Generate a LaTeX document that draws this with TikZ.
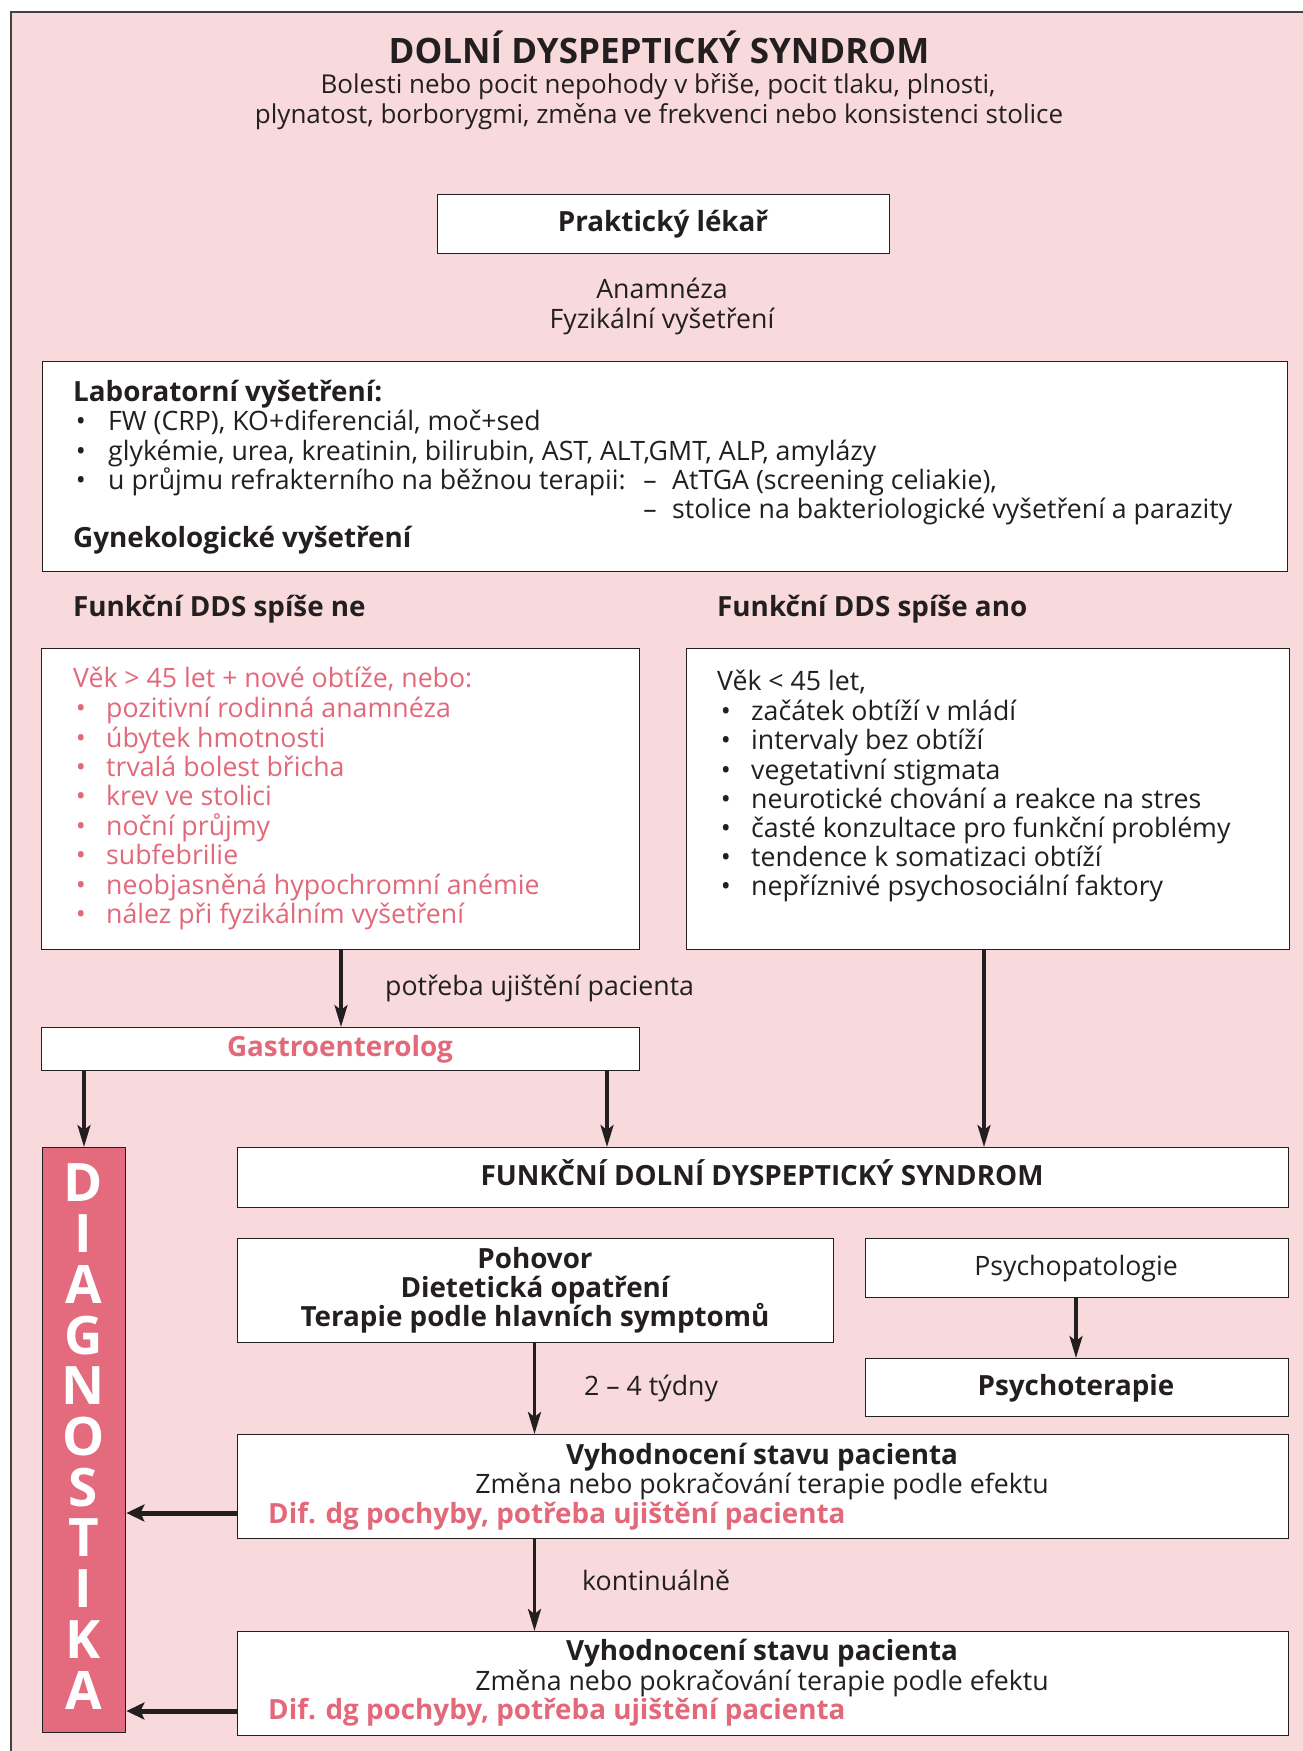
\documentclass[tikz,border=0pt]{standalone}
\usepackage{fontspec}
\setmainfont{Open Sans}
\usetikzlibrary{arrows.meta,calc}
\definecolor{bgpink}{RGB}{248,218,220}
\definecolor{redtxt}{RGB}{226,104,122}
\definecolor{diagred}{RGB}{227,107,125}
\definecolor{ink}{RGB}{35,31,32}
\tikzset{
  box/.style={draw=ink, line width=1.4pt, fill=white, inner sep=0pt, anchor=north west},
  txt/.style={text=ink, inner sep=0pt, font=\fontsize{26.7}{31}\selectfont},
  btxt/.style={text=ink, inner sep=0pt, font=\fontsize{27.8}{32}\selectfont\bfseries},
  rtxt/.style={text=redtxt, inner sep=0pt, font=\fontsize{26.7}{31}\selectfont},
  rbtxt/.style={text=redtxt, inner sep=0pt, font=\fontsize{27.8}{32}\selectfont\bfseries},
  arr/.style={draw=ink, line width=3.5pt, -{Stealth[length=22pt,width=13pt,inset=5pt]}},
  harr/.style={draw=ink, line width=5pt, -{Stealth[length=18pt,width=17pt,inset=4pt]}},
}
\begin{document}
\begin{tikzpicture}[x=1pt,y=-1pt]
\useasboundingbox (0,0) rectangle (1303,1751);
\fill[bgpink] (11,12) rectangle (1303,1751);
\draw[ink!85, line width=1.2pt] (11,1751) -- (11,12) -- (1303,12);

% title
\node[text=ink, inner sep=0pt, font=\fontsize{35}{40}\selectfont\bfseries, anchor=mid] (title) at (659,61) {DOLNÍ DYSPEPTICKÝ SYNDROM};
\node[text=ink, inner sep=0pt, font=\fontsize{26}{31}\selectfont, anchor=mid] (sub1) at (658,91) {Bolesti nebo pocit nepohody v břiše, pocit tlaku, plnosti,};
\node[text=ink, inner sep=0pt, font=\fontsize{26}{31}\selectfont, anchor=mid] (sub2) at (659,121) {plynatost, borborygmi, změna ve frekvenci nebo konsistenci stolice};

% boxes
\node[box, minimum width=452pt, minimum height=59pt] (prak) at (437,194) {};
\node[box, minimum width=1245pt, minimum height=210pt] (lab) at (42,361) {};
\node[box, minimum width=598pt, minimum height=301pt] (left) at (41,648) {};
\node[box, minimum width=603pt, minimum height=301pt] (right) at (686,648) {};
\node[box, minimum width=598pt, minimum height=43pt] (gastro) at (41,1027) {};
\node[box, fill=diagred, minimum width=83pt, minimum height=585pt] (diag) at (42,1147) {};
\node[box, minimum width=1051pt, minimum height=60pt] (funk) at (237,1147) {};
\node[box, minimum width=596pt, minimum height=104pt] (poh) at (237,1238) {};
\node[box, minimum width=423pt, minimum height=59pt] (psp) at (865,1238) {};
\node[box, minimum width=423pt, minimum height=58pt] (pst) at (865,1358) {};
\node[box, minimum width=1051pt, minimum height=104pt] (vyh1) at (237,1434) {};
\node[box, minimum width=1051pt, minimum height=104pt] (vyh2) at (237,1631) {};

% texts
\node[btxt, anchor=mid] (prakt) at (663,229) {Praktický lékař};
\node[txt, anchor=mid] (anam) at (662,296) {Anamnéza};
\node[txt, anchor=mid] (fyz) at (662,326) {Fyzikální vyšetření};

\node[btxt, anchor=mid west] (labh) at (73,399) {Laboratorní vyšetření:};
\foreach \t [count=\i from 0] in {{FW (CRP), KO+diferenciál, moč+sed},{glykémie, urea, kreatinin, bilirubin, AST, ALT,GMT, ALP, amylázy},{u průjmu refrakterního na běžnou terapii:}}{
  \node[txt, anchor=mid] (labb\i) at (81,{428+29.5*\i}) {•};
  \node[txt, anchor=mid west] (labt\i) at (108,{428+29.5*\i}) {\t};
}
\node[txt, anchor=mid] (dash1) at (650,487) {–};
\node[txt, anchor=mid west] (dasht1) at (672,487) {AtTGA (screening celiakie),};
\node[txt, anchor=mid] (dash2) at (650,516) {–};
\node[txt, anchor=mid west] (dasht2) at (672,516) {stolice na bakteriologické vyšetření a parazity};
\node[btxt, anchor=mid west] (gyn) at (73,545) {Gynekologické vyšetření};

\node[btxt, anchor=mid west] (ne) at (73,614) {Funkční DDS spíše ne};
\node[btxt, anchor=mid west] (ano) at (717,614) {Funkční DDS spíše ano};

\node[rtxt, anchor=mid west] (lh) at (73,685) {Věk > 45 let + nové obtíže, nebo:};
\foreach \t [count=\i from 0] in {pozitivní rodinná anamnéza,úbytek hmotnosti,trvalá bolest břicha,krev ve stolici,noční průjmy,subfebrilie,neobjasněná hypochromní anémie,nález při fyzikálním vyšetření}{
  \node[rtxt, anchor=mid] (lb\i) at (81,{715+29.43*\i}) {•};
  \node[rtxt, anchor=mid west] (lt\i) at (106,{715+29.43*\i}) {\t};
}
\node[txt, anchor=mid west] (rh) at (717,688) {Věk < 45 let,};
\foreach \t [count=\i from 0] in {začátek obtíží v mládí,intervaly bez obtíží,vegetativní stigmata,neurotické chování a reakce na stres,časté konzultace pro funkční problémy,tendence k somatizaci obtíží,nepříznivé psychosociální faktory}{
  \node[txt, anchor=mid] (rb\i) at (726,{718+29.17*\i}) {•};
  \node[txt, anchor=mid west] (rt\i) at (751,{718+29.17*\i}) {\t};
}

\node[rbtxt, anchor=mid] (gastrot) at (340,1054) {Gastroenterolog};
\node[txt, anchor=mid west] (potr) at (385,993) {potřeba ujištění pacienta};

\foreach \l [count=\i from 0] in {D,I,A,G,N,O,S,T,I,K,A}{
  \node[text=white, inner sep=0pt, font=\fontsize{53}{53}\selectfont\bfseries] (dg\i) at (83.5,{1183+50.7*\i}) {\l};
}

\node[btxt, anchor=mid] (funkt) at (762,1183) {FUNKČNÍ DOLNÍ DYSPEPTICKÝ SYNDROM};
\node[btxt, anchor=mid] (poh1) at (535,1266) {Pohovor};
\node[btxt, anchor=mid] (poh2) at (535,1295) {Dietetická opatření};
\node[btxt, anchor=mid] (poh3) at (535,1324) {Terapie podle hlavních symptomů};
\node[txt, anchor=mid] (pspt) at (1076,1273) {Psychopatologie};
\node[btxt, anchor=mid] (pstt) at (1076,1393) {Psychoterapie};
\node[txt, anchor=mid west] (tydny) at (584,1393) {2 – 4 týdny};

\node[btxt, anchor=mid] (v1a) at (762,1462) {Vyhodnocení stavu pacienta};
\node[txt, anchor=mid] (v1b) at (762,1491) {Změna nebo pokračování terapie podle efektu};
\node[rbtxt, anchor=mid west] (v1c) at (268,1521) {Dif. dg pochyby, potřeba ujištění pacienta};
\node[txt, anchor=mid west] (kont) at (582,1588) {kontinuálně};
\node[btxt, anchor=mid] (v2a) at (762,1658) {Vyhodnocení stavu pacienta};
\node[txt, anchor=mid] (v2b) at (762,1688) {Změna nebo pokračování terapie podle efektu};
\node[rbtxt, anchor=mid west] (v2c) at (268,1717) {Dif. dg pochyby, potřeba ujištění pacienta};

% arrow x positions
\coordinate (xa) at (341,0);
\coordinate (xb) at (84,0);
\coordinate (xc) at (607,0);
\coordinate (xd) at (984,0);
\coordinate (xe) at (1076,0);
\coordinate (xf) at (534.5,0);
\coordinate (yg) at (0,1513);
\coordinate (yi) at (0,1711);

\draw[arr] (left.south -| xa) -- (gastro.north -| xa);
\draw[arr] (gastro.south -| xb) -- (diag.north -| xb);
\draw[arr] (gastro.south -| xc) -- (funk.north -| xc);
\draw[arr] (right.south -| xd) -- (funk.north -| xd);
\draw[arr] (psp.south -| xe) -- (pst.north -| xe);
\draw[arr] (poh.south -| xf) -- (vyh1.north -| xf);
\draw[arr] (vyh1.south -| xf) -- (vyh2.north -| xf);
\draw[harr] (vyh1.west |- yg) -- (diag.east |- yg);
\draw[harr] (vyh2.west |- yi) -- (diag.east |- yi);
\end{tikzpicture}
\end{document}
